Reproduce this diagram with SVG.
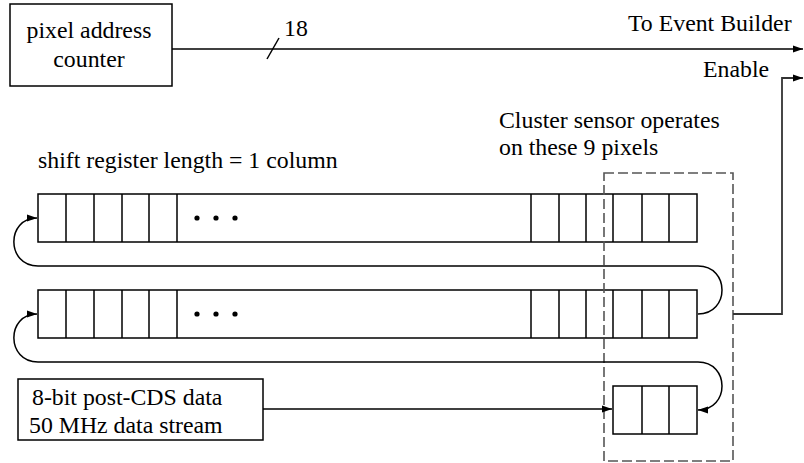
<svg xmlns="http://www.w3.org/2000/svg" width="804" height="463" viewBox="0 0 804 463">
<defs>
<marker id="arr" viewBox="0 0 10 10" refX="10" refY="5" markerWidth="10" markerHeight="10" markerUnits="userSpaceOnUse" orient="auto">
<path d="M0,1.5 L10,5 L0,8.5 z" fill="#000"/>
</marker>
</defs>
<style>
text{font-size:23.8px;fill:#000}
.box{fill:#fff;stroke:#000;stroke-width:1.5}
.cell{fill:none;stroke:#000;stroke-width:1.5}
.wire{fill:none;stroke:#000;stroke-width:1.5}
.dash{fill:none;stroke:#555;stroke-width:1.6;stroke-dasharray:10,4}
</style>
<rect width="804" height="463" fill="#fff"/>
<g font-family="'Liberation Serif', 'DejaVu Serif', 'Times New Roman', serif">

<g id="pixel-address-counter">
<rect class="box" x="10" y="4" width="162" height="82"/>
<text x="89" y="38" text-anchor="middle">pixel address</text>
<text x="89" y="67" text-anchor="middle">counter</text>
</g>

<g id="shift-register-1">
<rect class="box" x="38" y="194" width="659" height="48"/>
<path class="cell" d="M66,194V242M94,194V242M122,194V242M149,194V242M177,194V242M531,194V242M559,194V242M586,194V242M613,194V242M642,194V242M669,194V242"/>
<circle cx="197" cy="218" r="2.6"/><circle cx="216" cy="218" r="2.6"/><circle cx="235" cy="218" r="2.6"/>
</g>

<g id="shift-register-2">
<rect class="box" x="38" y="290" width="659" height="48"/>
<path class="cell" d="M66,290V338M94,290V338M122,290V338M149,290V338M177,290V338M531,290V338M559,290V338M586,290V338M613,290V338M642,290V338M669,290V338"/>
<circle cx="197" cy="314" r="2.6"/><circle cx="216" cy="314" r="2.6"/><circle cx="235" cy="314" r="2.6"/>
</g>

<g id="cluster-register">
<rect class="box" x="613" y="386" width="84" height="48"/>
<path class="cell" d="M642,386V434M669,386V434"/>
</g>

<g id="data-stream">
<rect class="box" x="18" y="379" width="245" height="61"/>
<text x="32" y="405">8-bit post-CDS data</text>
<text x="29" y="433">50 MHz data stream</text>
</g>

<g id="cluster-sensor">
<rect class="dash" x="604" y="173" width="129" height="288"/>
<text x="499" y="128">Cluster sensor operates</text>
<text x="499" y="155">on these 9 pixels</text>
</g>

<g id="labels">
<text x="38" y="168">shift register length = 1 column</text>
<text x="284" y="36">18</text>
<text x="628" y="31">To Event Builder</text>
<text x="703" y="77">Enable</text>
</g>

</g>

<g id="connectors">
<path class="wire" d="M172,49H803" marker-end="url(#arr)"/>
<path class="wire" d="M267,59L279,38"/>
<path class="wire" d="M733,314H782V78H803" marker-end="url(#arr)" style="stroke:#333;stroke-width:1.8"/>
<path class="wire" d="M698,266H38C6,266 6,218 37,218" marker-end="url(#arr)"/>
<path class="wire" d="M698,266C730,266 730,314 698,314"/>
<path class="wire" d="M698,362H38C6,362 6,314 37,314" marker-end="url(#arr)"/>
<path class="wire" d="M698,362C730,362 730,410 698,410" marker-end="url(#arr)"/>
<path class="wire" d="M263,409H612" marker-end="url(#arr)"/>
</g>
</svg>
